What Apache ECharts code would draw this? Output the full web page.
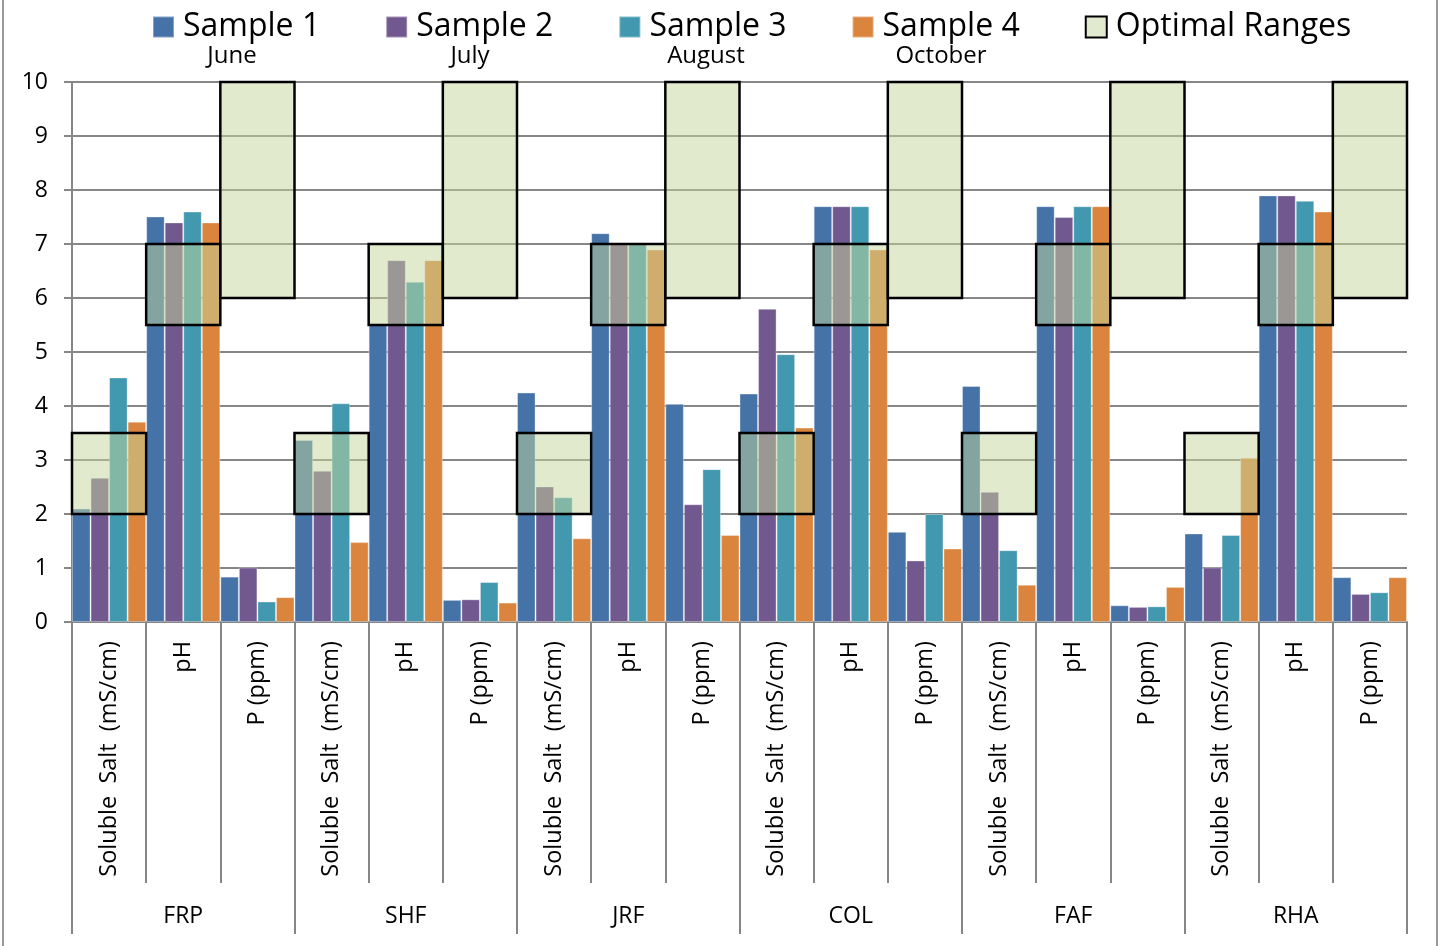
<!DOCTYPE html>
<html>
<head>
<meta charset="utf-8">
<style>
  html, body { margin: 0; padding: 0; background: #fff; }
  #chart { width: 1445px; height: 946px; }
</style>
<script src="https://cdn.jsdelivr.net/npm/echarts@6/dist/echarts.min.js"></script>
</head>
<body>
<div id="chart"></div>
<script>
// Soil test results per site, three measures each, four sampling dates
const sites = ['FRP', 'SHF', 'JRF', 'COL', 'FAF', 'RHA'];
const measures = ['Soluble  Salt  (mS/cm)', 'pH', 'P (ppm)'];
const seriesNames = ['Sample 1', 'Sample 2', 'Sample 3', 'Sample 4'];
const months = ['June', 'July', 'August', 'October'];
const rangeName = 'Optimal Ranges';

// values ordered site by site: Soluble Salt, pH, P
const sample1 = [2.10, 7.51, 0.84, 3.37, 5.50, 0.41, 4.25, 7.20, 4.04, 4.23, 7.70, 1.67, 4.37, 7.70, 0.31, 1.64, 7.90, 0.83];
const sample2 = [2.67, 7.40, 1.01, 2.80, 6.70, 0.42, 2.51, 7.00, 2.18, 5.80, 7.70, 1.14, 2.41, 7.50, 0.28, 1.01, 7.90, 0.52];
const sample3 = [4.53, 7.60, 0.38, 4.05, 6.30, 0.74, 2.31, 7.00, 2.83, 4.96, 7.70, 2.00, 1.33, 7.70, 0.29, 1.61, 7.80, 0.55];
const sample4 = [3.71, 7.40, 0.46, 1.48, 6.70, 0.36, 1.55, 6.90, 1.61, 3.60, 6.90, 1.36, 0.69, 7.70, 0.65, 3.04, 7.60, 0.83];

// optimal band for each measure (Soluble Salt, pH, P)
const optimalLow = [2, 5.5, 6];
const optimalHigh = [3.5, 7, 10];

const yTicks = [0, 10, 1]; // min, max, step

const colors = ['#4572A7', '#71588F', '#4198AF', '#DB843D'];
const FONT = 'Open Sans';

const categories = [];
const rangeData = [];
sites.forEach((s, si) => {
  measures.forEach((m, mi) => {
    const idx = si * measures.length + mi;
    categories.push(m);
    rangeData.push([idx, optimalLow[mi], optimalHigh[mi]]);
  });
});

const sampleValues = [sample1, sample2, sample3, sample4];

const chart = echarts.init(document.getElementById('chart'), null, { renderer: 'canvas' });

const barSeries = seriesNames.map((name, i) => ({
  name: name,
  type: 'bar',
  xAxisIndex: 0,
  data: sampleValues[i],
  barGap: '0%',
  barCategoryGap: '0%',
  itemStyle: { color: colors[i], borderColor: 'rgba(255,255,255,0.35)', borderWidth: 1 },
  z: 2
}));

// translucent band with a black outline, one box per category
const rangeSeries = {
  name: rangeName,
  type: 'custom',
  xAxisIndex: 0,
  data: rangeData,
  encode: { x: 0, y: [1, 2] },
  z: 5,
  renderItem: function (params, api) {
    const idx = api.value(0);
    const top = api.coord([idx, api.value(2)]);
    const bottom = api.coord([idx, api.value(1)]);
    const w = api.size([1, 0])[0];
    return {
      type: 'rect',
      shape: { x: top[0] - w / 2, y: top[1], width: w, height: bottom[1] - top[1] },
      style: { fill: 'rgba(195,214,155,0.5)', stroke: '#000', lineWidth: 2.5 }
    };
  }
};

const legendEntries = seriesNames.map((n, i) => ({ name: n, itemStyle: { color: colors[i] } }));
legendEntries.push({ name: rangeName, itemStyle: { color: '#E1E9CE', borderColor: '#000', borderWidth: 2 } });

// month captions under the legend entries
const monthX = [232, 470, 706, 941];

const option = {
  animation: false,
  backgroundColor: '#fff',
  legend: {
    left: 152,
    top: 11,
    padding: 0,
    icon: 'rect',
    itemWidth: 21,
    itemHeight: 21,
    itemGap: 65,
    data: legendEntries,
    formatter: function (name) { return '{n|' + name + '}'; },
    textStyle: {
      rich: {
        n: { fontFamily: FONT, fontSize: 32, color: '#000', width: 142, padding: [0, 0, 0, 4] }
      }
    }
  },
  grid: { left: 72, right: 38, top: 82, bottom: 324, containLabel: false },
  xAxis: [
    {
      type: 'category',
      data: categories,
      position: 'bottom',
      axisLine: { show: true, lineStyle: { color: '#868686', width: 2 } },
      axisTick: { show: true, interval: 0, length: 261, lineStyle: { color: '#868686', width: 2 } },
      axisLabel: {
        interval: 0, rotate: 90, margin: 19,
        fontFamily: FONT, fontSize: 23.5, color: '#000'
      },
      splitLine: { show: false }
    },
    {
      type: 'category',
      data: sites,
      position: 'bottom',
      axisLine: { show: false },
      axisTick: { show: true, interval: 0, length: 312, lineStyle: { color: '#868686', width: 2 } },
      axisLabel: { interval: 0, margin: 283, fontFamily: FONT, fontSize: 23, color: '#000' },
      splitLine: { show: false }
    }
  ],
  yAxis: {
    type: 'value',
    min: yTicks[0],
    max: yTicks[1],
    interval: yTicks[2],
    axisLine: { show: true, lineStyle: { color: '#868686', width: 2 } },
    axisTick: { show: true, length: 8, lineStyle: { color: '#868686', width: 2 } },
    axisLabel: { margin: 24, fontFamily: FONT, fontSize: 23, color: '#000' },
    splitLine: { show: true, lineStyle: { color: '#868686', width: 2 } }
  },
  graphic: [
    {
      type: 'rect',
      shape: { x: 3, y: -10, width: 1434, height: 970 },
      style: { fill: 'none', stroke: '#9a9a9a', lineWidth: 2 },
      silent: true
    }
  ].concat(months.map((m, i) => ({
    type: 'text',
    x: monthX[i],
    y: 56,
    style: {
      text: m, fontFamily: FONT, fontSize: 24, fill: '#000',
      textAlign: 'center', textVerticalAlign: 'middle'
    }
  }))),
  series: barSeries.concat([rangeSeries])
};

chart.setOption(option);
</script>
</body>
</html>
